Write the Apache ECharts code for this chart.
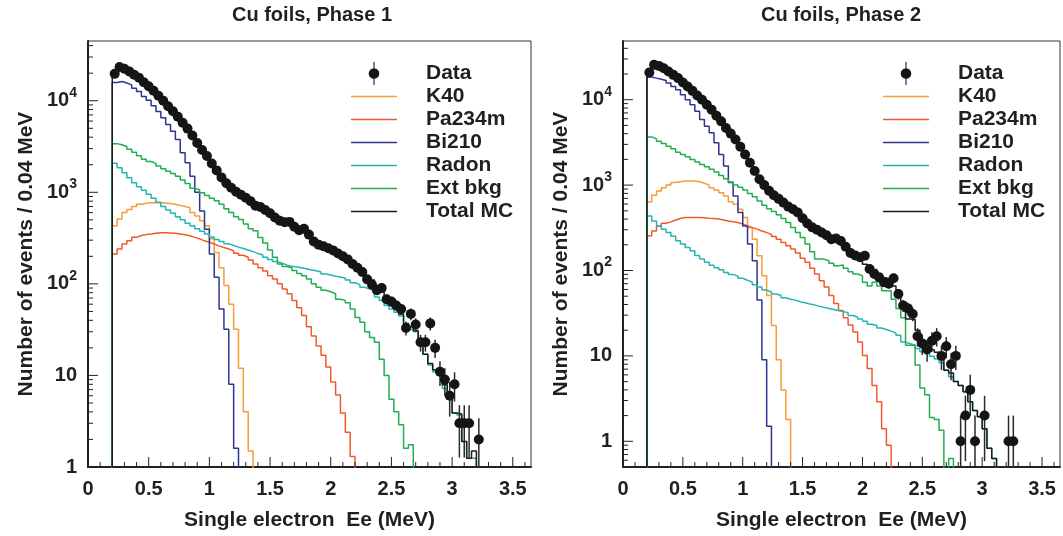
<!DOCTYPE html>
<html><head><meta charset="utf-8">
<script src="https://cdn.jsdelivr.net/npm/echarts@6/dist/echarts.min.js"></script>
<style>html,body{margin:0;padding:0;background:#fff}#c{width:1063px;height:536px}</style>
</head><body><div id="c"></div>
<script>
// ---------------- data (bins of 0.04 MeV starting at 0.20 MeV) ----------------
const BIN_START = 0.2;
const BIN_WIDTH = 0.04;

const panelTitles = ['Cu foils, Phase 1', 'Cu foils, Phase 2'];
const xAxisTitle = 'Single electron  Ee (MeV)';
const yAxisTitle = 'Number of events / 0.04 MeV';
const xTickValues = [0, 0.5, 1, 1.5, 2, 2.5, 3, 3.5];
const yTickLabels = ['1', '10', '10^2', '10^3', '10^4'];
const legendNames = ['Data', 'K40', 'Pa234m', 'Bi210', 'Radon', 'Ext bkg', 'Total MC'];

// Phase 1
const p1Data = [19650,23400,22300,20900,19200,17800,15900,14400,12850,11330,
  10000,8710,7690,6700,5760,4960,4170,3450,2900,2490,
  2065,1735,1455,1253,1119,1012,939,871,798,713,
  690,640,590,530,488,470,475,420,385,400,
  345,290,268,258,245,232,215,200,185,165,
  150,135,112,98,85,90,68,64,58,53,
  33,47,36,23,23,37,20,11,9,6,
  8,3,3,3,0,2];
const p1Total = [20500,22300,21900,20600,19200,17700,15900,14400,12900,11400,
  10000,8800,7700,6700,5750,4900,4150,3450,2900,2450,
  2060,1730,1460,1260,1110,1010,930,860,790,720,
  680,630,580,530,490,460,440,410,385,365,
  335,300,275,262,250,236,220,205,188,170,
  152,138,122,110,96,82,70,60,53,47,
  37,34,31,23.5,17,13.5,11.5,10.5,7.9,6.5,
  3.9,3.8,1.9,1.25,1.5];
const p1Bi210 = [15800,16200,15600,14900,13700,12600,11100,10100,8800,7650,
  6500,5500,4650,3770,2700,2100,1500,1000,626,396,
  212,118,53,32,8,1.6];
const p1K40 = [430,510,600,650,700,740,760,770,775,770,
  765,755,740,720,700,680,600,550,490,430,
  310,220,150,96,60,32,12,4,1.5];
const p1Pa234m = [212,240,272,295,322,338,345,350,358,362,
  362,360,356,350,343,335,322,310,295,285,
  272,260,250,240,230,216,205,195,182,165,
  150,138,123,113,100,88,78,66,55,45,
  34,27,21,16.6,12.4,8.5,6.1,3.9,2.4,1.3];
const p1Radon = [2070,1850,1630,1440,1270,1150,1050,950,860,780,
  700,640,590,540,500,460,430,400,375,350,
  325,305,290,275,262,252,243,234,225,215,
  207,195,185,175,168,160,156,153,150,146,
  142,139,135,128,125,121,119,116,110,103,
  98,92,88,86,72,66,58,53,49,44.5,
  35,32,30,23,17,13,11,10,7.2,6.1,
  3.9,3.7,1.9,1.25,1.25];
const p1ExtBkg = [3400,3300,3140,2960,2740,2500,2300,2170,2070,1940,
  1810,1700,1600,1500,1360,1250,1110,1060,990,920,
  860,810,740,660,600,540,505,450,400,380,
  320,280,235,195,165,155,150,140,130,123,
  113,100,92,85,82,78,68,66,62,53,
  43,38,30,26,23,15,10,5.5,4,2.9,
  1.6,1.75];

// Phase 2
const p2Data = [20800,25600,24900,23400,21400,19550,17900,15900,14300,12700,
  11200,10000,8750,7650,6510,5580,4670,4010,3420,2810,
  2280,1830,1460,1170,1000,860,760,690,624,560,
  521,477,410,355,320,300,279,259,233,237,
  222,190,160,150,143,149,104,91,83,73,
  70,81,53,39,36,31,17,14,12,15,
  17,10,13,8,10,1,2,4,1,0,
  2,0,0,0,0,1,1];
const p2Total = [22500,24800,24500,23200,21400,19600,17900,16000,14300,12700,
  11200,9900,8700,7600,6500,5550,4700,4000,3400,2800,
  2280,1830,1470,1180,1000,860,760,690,624,560,
  515,470,410,365,325,300,280,262,245,232,
  218,198,172,158,140,118,102,103,92,82,
  79,66,54,43,27,26.6,20,15.4,14.1,11.8,
  11,9.6,6.8,6.3,5.0,4.5,3.8,2.9,2.3,1.94,
  1.4,0.83,0.63];
const p2Bi210 = [18400,17900,17400,16800,15700,14300,13100,11400,10000,8750,
  7310,5850,4890,4090,3130,2285,1670,1070,745,477,
  333,204,130,45,9,1.5];
const p2K40 = [634,760,853,933,1000,1070,1097,1115,1115,1115,
  1097,1050,1000,933,875,816,745,640,596,521,
  417,319,233,149,87,51,22.7,9,4,1.8];
const p2Pa234m = [255,291,333,358,371,391,406,417,417,417,
  417,415,410,406,400,390,381,373,365,350,
  333,318,305,290,278,265,250,233,213,195,
  178,160,139,125,106,91,76,64,51,41,
  34,28,23,19,14.5,10.1,7.1,4.5,2.9,1.4,
  0.9];
const p2Radon = [435,381,333,305,279,251,223,204,186,170,
  150,136,125,115,108,102,95,90,86,81,
  77,73,68,64,59,56,53,51,48,46,
  45,43,42,40.5,39.6,38,37,36,35,34,
  33,32,29.7,28.5,27,25.5,23.5,22.7,21.2,20.4,
  19.5,18.5,17.4,14.5,13.9,13.3,12.2,11.2,10.6,9.9,
  9.2,8.3,6.8,5.7,5.0,4.5,3.8,2.9,2.3,1.94,
  1.4,0.83,0.63];
const p2ExtBkg = [3670,3480,3260,3070,2850,2660,2430,2285,2150,2000,
  1860,1745,1640,1530,1420,1300,1190,1085,1005,945,
  875,800,730,650,580,530,490,450,406,365,
  319,279,244,204,166,136,136,130,122,114,
  116,106,97,91,87,73,66,73,66,58,
  58,46,36,28,13.3,13.3,7.8,4.2,3.5,1.9,
  1.8,1.35,0,0.63];

// ---------------- styling ----------------
const FONT = "'Liberation Sans', Arial, Helvetica, sans-serif";
const TXT = '#231f20';
const COLORS = {
  'Data': '#151515', 'K40': '#f99b35', 'Pa234m': '#f05a2a', 'Bi210': '#2c3591',
  'Radon': '#22b5b3', 'Ext bkg': '#1fae50', 'Total MC': '#1c1c1c'
};
const FLOOR = 0.01; // empty bins drop below the axis and are clipped
const DATA_ICON = 'path://M5.4,0H6.6V26H5.4Z M0,13A6,6 0 1 1 12,13A6,6 0 1 1 0,13Z';
const LINE_ICON = 'path://M0,0H46V1.5H0Z';

const panels = [
  { data: p1Data, hist: { 'K40': p1K40, 'Pa234m': p1Pa234m, 'Bi210': p1Bi210, 'Radon': p1Radon, 'Ext bkg': p1ExtBkg, 'Total MC': p1Total },
    grid: { left: 88, top: 41, width: 443, height: 428 }, yMin: 1, yMax: 44900, titleX: 312, legendLeft: 351 },
  { data: p2Data, hist: { 'K40': p2K40, 'Pa234m': p2Pa234m, 'Bi210': p2Bi210, 'Radon': p2Radon, 'Ext bkg': p2ExtBkg, 'Total MC': p2Total },
    grid: { left: 623, top: 41, width: 443, height: 428 }, yMin: 0.5, yMax: 48700, titleX: 841, legendLeft: 883 }
];

function edge(i) { return +(BIN_START + i * BIN_WIDTH).toFixed(3); }
function histPoints(values) {
  const pts = [[edge(0), FLOOR]];
  values.forEach((v, i) => pts.push([edge(i), v > 0 ? v : FLOOR]));
  const last = values[values.length - 1];
  pts.push([edge(values.length), last > 0 ? last : FLOOR]);
  pts.push([edge(values.length), FLOOR]);
  return pts;
}
function dataPoints(values) {
  const pts = [];
  values.forEach((v, i) => { if (v > 0) pts.push([+(edge(i) + BIN_WIDTH / 2).toFixed(3), v]); });
  return pts;
}
function xLabel(v) {
  const t = xTickValues.find(t => Math.abs(t - v) < 1e-6);
  return t === undefined ? '' : String(t);
}
function yLabel(v) {
  const l = Math.log10(v), k = Math.round(l);
  if (Math.abs(l - k) > 1e-6 || k < 0 || k >= yTickLabels.length) return '';
  const s = yTickLabels[k];
  if (s.indexOf('^') >= 0) { const p = s.split('^'); return '{b|' + p[0] + '}{s|' + p[1] + '}'; }
  return '{b|' + s + '}';
}

const grids = [], xAxes = [], yAxes = [], series = [], legends = [], graphics = [];
panels.forEach((p, g) => {
  grids.push(Object.assign({ show: true, borderColor: '#333', borderWidth: 1, backgroundColor: 'transparent' }, p.grid));
  xAxes.push({
    gridIndex: g, type: 'value', min: 0, max: 3.65, interval: 0.5,
    axisLine: { show: true, onZero: false, lineStyle: { color: '#222', width: 2 } },
    axisTick: { show: false }, splitLine: { show: false },
    axisLabel: { margin: 12, fontSize: 20, fontWeight: 'bold', fontFamily: FONT, color: TXT, formatter: xLabel },
    name: xAxisTitle, nameLocation: 'middle', nameGap: 43,
    nameTextStyle: { fontSize: 21, fontWeight: 'bold', fontFamily: FONT, color: TXT }
  });
  yAxes.push({
    gridIndex: g, type: 'log', logBase: 10, min: p.yMin, max: p.yMax,
    axisLine: { show: true, onZero: false, lineStyle: { color: '#222', width: 2 } },
    axisTick: { show: false }, splitLine: { show: false }, minorTick: { show: false },
    axisLabel: {
      margin: 11, fontSize: 20, fontWeight: 'bold', fontFamily: FONT, color: TXT, formatter: yLabel,
      rich: {
        b: { fontSize: 20, fontWeight: 'bold', fontFamily: FONT, color: TXT, lineHeight: 30 },
        s: { fontSize: 14, fontWeight: 'bold', fontFamily: FONT, color: TXT, verticalAlign: 'top' }
      }
    },
    name: yAxisTitle, nameLocation: 'middle', nameGap: 51, nameRotate: 90,
    nameTextStyle: { fontSize: 21, fontWeight: 'bold', fontFamily: FONT, color: TXT }
  });
  ['K40', 'Pa234m', 'Bi210', 'Radon', 'Ext bkg', 'Total MC'].forEach((name, k) => {
    series.push({
      name, type: 'line', xAxisIndex: g, yAxisIndex: g, data: histPoints(p.hist[name]),
      step: 'end', symbol: 'none', showSymbol: false, clip: true, silent: true, z: 2 + k,
      lineStyle: { color: COLORS[name], width: 1.5 }, itemStyle: { color: COLORS[name] }
    });
  });
  const dp = dataPoints(p.data);
  series.push({
    type: 'custom', xAxisIndex: g, yAxisIndex: g, clip: true, silent: true, z: 9,
    data: dp.map(d => [d[0], d[1], Math.sqrt(d[1])]), encode: { x: 0, y: 1 },
    renderItem(params, api) {
      const x = api.value(0), v = api.value(1), e = api.value(2);
      const lo = v - e > 0 ? v - e : FLOOR;
      const a = api.coord([x, lo]), b = api.coord([x, v + e]);
      return { type: 'line', shape: { x1: a[0], y1: a[1], x2: b[0], y2: b[1] }, style: { stroke: '#2a2a2a', lineWidth: 1.5 } };
    }
  });
  series.push({
    name: 'Data', type: 'scatter', xAxisIndex: g, yAxisIndex: g, data: dp, symbol: 'circle', symbolSize: 10,
    itemStyle: { color: COLORS['Data'], opacity: 1 }, silent: true, z: 10
  });
  // tick marks (ROOT style, inside the frame)
  series.push({
    type: 'custom', xAxisIndex: g, yAxisIndex: g, clip: false, silent: true, z: 11,
    data: [[0, p.yMin]], encode: { x: 0, y: 1 },
    renderItem(params, api) {
      const kids = [];
      const origin = api.coord([0, p.yMin]);
      for (let i = 1; i <= 36; i++) {
        const v = i / 10;
        const major = xTickValues.some(t => Math.abs(t - v) < 1e-6);
        const x = api.coord([v, p.yMin])[0];
        kids.push({ type: 'line', shape: { x1: x, y1: origin[1], x2: x, y2: origin[1] - (major ? 10 : 5) }, style: { stroke: '#222', lineWidth: 1 } });
      }
      for (let k = Math.floor(Math.log10(p.yMin)); k <= Math.ceil(Math.log10(p.yMax)); k++) {
        for (let m = 1; m <= 9; m++) {
          const v = m * Math.pow(10, k);
          if (v <= p.yMin * 1.0001 || v >= p.yMax) continue;
          const y = api.coord([0, v])[1];
          kids.push({ type: 'line', shape: { x1: origin[0], y1: y, x2: origin[0] + (m === 1 ? 10 : 5), y2: y }, style: { stroke: '#222', lineWidth: 1 } });
        }
      }
      return { type: 'group', children: kids };
    }
  });
  legends.push({
    orient: 'vertical', left: p.legendLeft, top: 62, padding: 0, itemWidth: 46, itemHeight: 23, itemGap: 0,
    selectedMode: false, itemStyle: { borderWidth: 0 },
    textStyle: { fontSize: 21, fontWeight: 'bold', fontFamily: FONT, color: TXT, lineHeight: 23, padding: [0, 0, 0, 24] },
    data: legendNames.map(n => ({
      name: n, icon: n === 'Data' ? DATA_ICON : LINE_ICON,
      itemStyle: { color: COLORS[n], borderWidth: 0, opacity: 1 }
    }))
  });
  graphics.push({
    type: 'text', x: p.titleX, y: 15,
    style: { text: panelTitles[g], font: 'bold 20px ' + FONT, fill: TXT, textAlign: 'center', textVerticalAlign: 'middle', align: 'center', verticalAlign: 'middle' }
  });
});

const chart = echarts.init(document.getElementById('c'), null, { renderer: 'canvas' });
chart.setOption({
  animation: false, backgroundColor: '#fff',
  grid: grids, xAxis: xAxes, yAxis: yAxes, series, legend: legends, graphic: graphics
});
</script></body></html>
